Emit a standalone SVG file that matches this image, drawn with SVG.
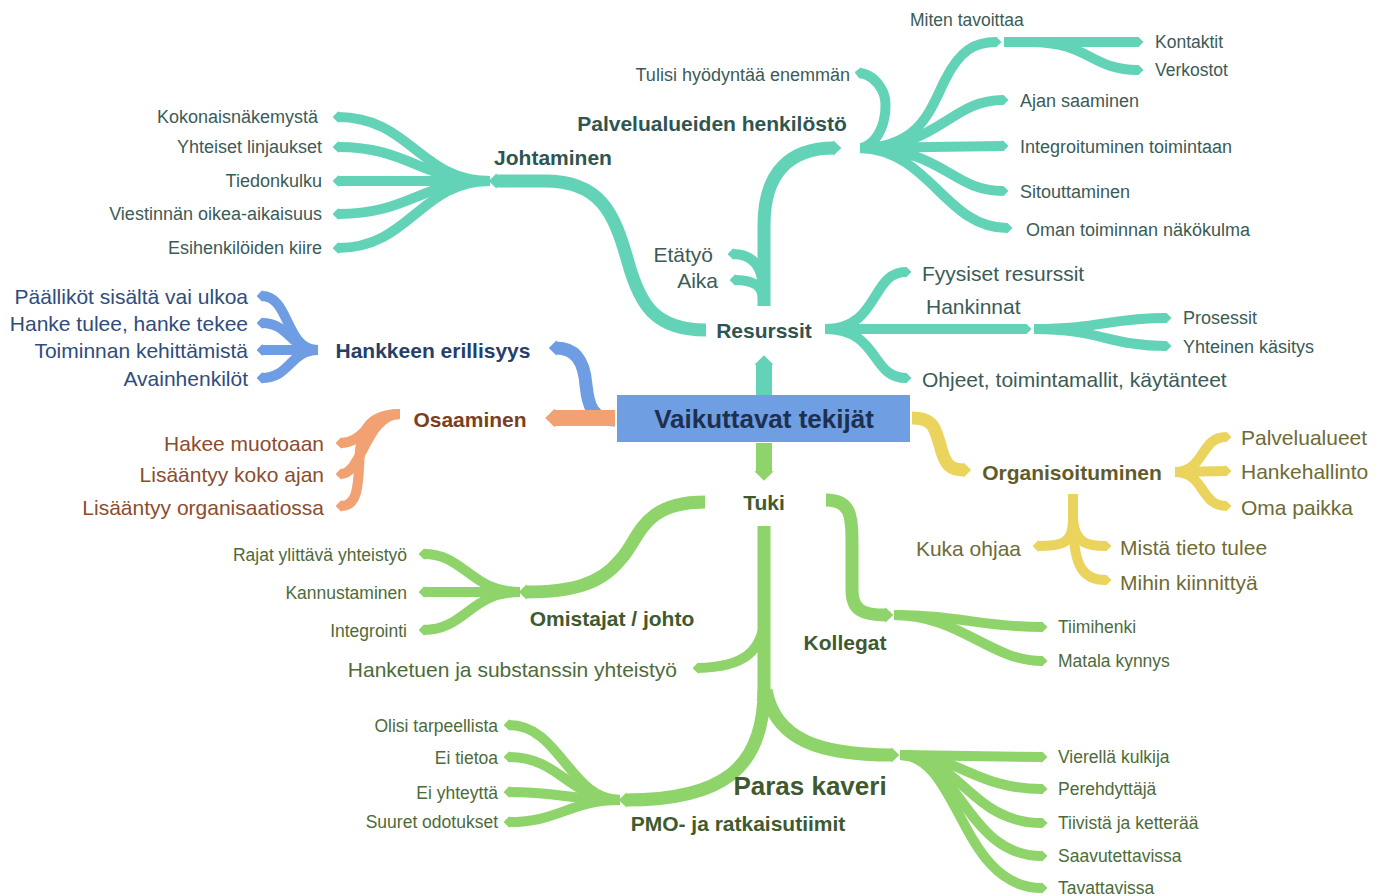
<svg xmlns="http://www.w3.org/2000/svg" width="1384" height="896" viewBox="0 0 1384 896">
<defs>
<style>
text{font-family:"Liberation Sans",Arial,sans-serif;dominant-baseline:central}
.b{font-weight:bold;font-size:21px}
.l{font-size:18px}
.m{font-size:21px}
.s{font-size:17.5px}
.r{text-anchor:end}
.c{text-anchor:middle}
.tt{fill:#3b5b57}.tb{fill:#2f5550}
.bt{fill:#2f4c7c}.bb{fill:#263f6a}
.ot{fill:#8b4d2e}.ob{fill:#7a3f20}
.yt{fill:#6e6b36}.yb{fill:#5f5c2a}
.gt{fill:#4d6b3a}.gb{fill:#3f5a2e}
path.br{fill:none;stroke-linecap:butt}
.teal{stroke:#63d3b7;marker-end:url(#mt)}
.blue{stroke:#6e9de3;marker-end:url(#mb)}
.orng{stroke:#f2a272;marker-end:url(#mo)}
.yell{stroke:#ebd45e;marker-end:url(#my)}
.grn{stroke:#8fd46a;marker-end:url(#mg)}
.w1{stroke-width:16}.w2{stroke-width:13}.w3{stroke-width:10}
</style>
<marker id="mt" viewBox="0 0 6 12" refX="0.5" refY="6" markerWidth="0.6" markerHeight="1.2" orient="auto"><path d="M0,0 L6,6 L0,12 z" fill="#63d3b7"/></marker>
<marker id="mb" viewBox="0 0 6 12" refX="0.5" refY="6" markerWidth="0.6" markerHeight="1.2" orient="auto"><path d="M0,0 L6,6 L0,12 z" fill="#6e9de3"/></marker>
<marker id="mo" viewBox="0 0 6 12" refX="0.5" refY="6" markerWidth="0.6" markerHeight="1.2" orient="auto"><path d="M0,0 L6,6 L0,12 z" fill="#f2a272"/></marker>
<marker id="my" viewBox="0 0 6 12" refX="0.5" refY="6" markerWidth="0.6" markerHeight="1.2" orient="auto"><path d="M0,0 L6,6 L0,12 z" fill="#ebd45e"/></marker>
<marker id="mg" viewBox="0 0 6 12" refX="0.5" refY="6" markerWidth="0.6" markerHeight="1.2" orient="auto"><path d="M0,0 L6,6 L0,12 z" fill="#8fd46a"/></marker>
</defs>
<rect width="1384" height="896" fill="#ffffff"/>

<g id="connectors">
<!-- teal: Resurssit -->
<path class="br teal w1" d="M764,396 L764,364"/>
<path class="br teal w2" d="M706,330 C655,330 640,305 628,262 C614,212 600,181 545,181 L496,181"/>
<path class="br teal w3" d="M490,181 C420,181 410,117 338,117"/>
<path class="br teal w3" d="M490,181 C420,181 410,147 338,147"/>
<path class="br teal w3" d="M490,181 L338,181"/>
<path class="br teal w3" d="M490,181 C420,181 410,214 338,214"/>
<path class="br teal w3" d="M490,181 C420,181 410,248 338,248"/>
<path class="br teal w2" d="M764,306 L764,225 C764,172 790,148 834,148"/>
<path class="br teal w3" d="M763,290 C763,266 752,254 733,254"/>
<path class="br teal w3" d="M763,300 C763,286 754,280 735,280"/>
<path class="br teal w3" d="M862,148 C885,140 890,104 882,90 C876,79 868,74 860,73"/>
<path class="br teal w3" d="M860,148 C920,148 930,110 945,80 C960,50 975,42 996,42"/>
<path class="br teal w3" d="M1004,42 L1138,42"/>
<path class="br teal w3" d="M1030,42 C1090,42 1090,70 1138,70"/>
<path class="br teal w3" d="M860,148 C940,148 950,100 1003,100"/>
<path class="br teal w3" d="M860,148 L1003,146"/>
<path class="br teal w3" d="M860,148 C945,148 950,191 1003,191"/>
<path class="br teal w3" d="M860,148 C930,150 945,228 1007,228"/>
<path class="br teal w3" d="M825,329 C880,329 870,272 906,272"/>
<path class="br teal w3" d="M825,329 L1026,329"/>
<path class="br teal w3" d="M1034,329 C1100,329 1110,318 1166,318"/>
<path class="br teal w3" d="M1034,329 C1100,329 1110,346 1166,346"/>
<path class="br teal w3" d="M825,329 C880,329 870,378 906,378"/>
<!-- blue -->
<path class="br blue w2" d="M615,420 C592,420 588,405 586,385 C584,360 575,348 556,348"/>
<path class="br blue w3" d="M318,350 C285,350 290,296 262,296"/>
<path class="br blue w3" d="M318,350 C290,350 290,323 262,323"/>
<path class="br blue w3" d="M318,350 L262,350"/>
<path class="br blue w3" d="M318,350 C290,350 290,378 262,378"/>
<!-- orange -->
<path class="br orng w1" d="M615,418 L554,418"/>
<path class="br orng w3" d="M400,414 C368,414 365,443 341,443"/>
<path class="br orng w3" d="M400,414 C366,414 362,474 341,474"/>
<path class="br orng w3" d="M400,414 C370,414 362,430 360,450 C358,480 360,506 341,506"/>
<!-- yellow -->
<path class="br yell w2" d="M912,418 C935,418 935,430 940,445 C945,465 950,470 964,470"/>
<path class="br yell w3" d="M1175,472 C1205,472 1200,437 1226,437"/>
<path class="br yell w3" d="M1175,472 L1226,471"/>
<path class="br yell w3" d="M1175,472 C1205,472 1200,506 1226,506"/>
<path class="br yell w3" d="M1073,494 L1073,520 C1073,545 1060,546 1038,546"/>
<path class="br yell w3" d="M1073,520 C1075,545 1090,546 1106,546"/>
<path class="br yell w3" d="M1073,520 C1073,570 1085,580 1106,580"/>
<!-- green -->
<path class="br grn w1" d="M764,443 L764,472"/>
<path class="br grn w2" d="M705,502 C640,502 640,540 620,560 C600,585 570,592 526,592"/>
<path class="br grn w3" d="M520,592 C470,592 465,554 424,554"/>
<path class="br grn w3" d="M520,592 L424,592"/>
<path class="br grn w3" d="M520,592 C470,592 465,630 424,630"/>
<path class="br grn w2" d="M826,500 C850,500 852,515 852,540 L852,590 C852,610 862,615 886,615"/>
<path class="br grn w3" d="M894,615 C960,615 980,627 1042,627"/>
<path class="br grn w3" d="M894,615 C960,615 990,661 1042,661"/>
<path class="br grn w2" d="M764,526 L764,700"/>
<path class="br grn w3" d="M765,610 C765,655 740,667 698,668"/>
<path class="br grn w2" d="M764,690 C764,770 720,800 626,800"/>
<path class="br grn w2" d="M766,690 C775,740 820,755 892,755"/>
<path class="br grn w3" d="M620,800 C570,800 560,725 509,725"/>
<path class="br grn w3" d="M620,800 C570,800 560,757 509,757"/>
<path class="br grn w3" d="M620,800 C570,800 560,792 509,792"/>
<path class="br grn w3" d="M620,800 C570,800 560,822 509,822"/>
<path class="br grn w3" d="M900,755 L1042,757"/>
<path class="br grn w3" d="M900,755 C960,755 975,789 1042,789"/>
<path class="br grn w3" d="M900,755 C960,755 970,823 1042,823"/>
<path class="br grn w3" d="M900,755 C960,755 965,856 1042,856"/>
<path class="br grn w3" d="M900,755 C960,755 960,888 1042,888"/>
</g>

<g id="center">
<rect x="617" y="395" width="293" height="47" fill="#6f9ee2"/>
<text x="764" y="419" class="c" style="font-size:26px;font-weight:bold;fill:#1d3050">Vaikuttavat tekijät</text>
</g>

<g id="resurssit">
<text x="764" y="330" class="b c tb">Resurssit</text>
</g>
<g id="johtaminen">
<text x="553" y="157" class="b c tb">Johtaminen</text>
<text x="318" y="117" class="l r tt">Kokonaisnäkemystä</text>
<text x="322" y="147" class="l r tt">Yhteiset linjaukset</text>
<text x="322" y="181" class="l r tt">Tiedonkulku</text>
<text x="322" y="214" class="l r tt">Viestinnän oikea-aikaisuus</text>
<text x="322" y="248" class="l r tt">Esihenkilöiden kiire</text>
</g>
<g id="palvelualueiden">
<text x="712" y="123" class="b c tb">Palvelualueiden henkilöstö</text>
<text x="850" y="75" class="l r tt">Tulisi hyödyntää enemmän</text>
<text x="910" y="20" class="s tt">Miten tavoittaa</text>
<text x="1155" y="42" class="s tt">Kontaktit</text>
<text x="1155" y="70" class="s tt">Verkostot</text>
<text x="1020" y="101" class="l tt">Ajan saaminen</text>
<text x="1020" y="147" class="l tt">Integroituminen toimintaan</text>
<text x="1020" y="192" class="l tt">Sitouttaminen</text>
<text x="1026" y="230" class="l tt">Oman toiminnan näkökulma</text>
</g>
<g id="etatyo">
<text x="713" y="254" class="m r tt">Etätyö</text>
<text x="718" y="280" class="m r tt">Aika</text>
</g>
<g id="resurssit-oikea">
<text x="922" y="273" class="m tt">Fyysiset resurssit</text>
<text x="926" y="306" class="m tt">Hankinnat</text>
<text x="1183" y="318" class="l tt">Prosessit</text>
<text x="1183" y="347" class="l tt">Yhteinen käsitys</text>
<text x="922" y="379" class="m tt">Ohjeet, toimintamallit, käytänteet</text>
</g>
<g id="hankkeen">
<text x="433" y="350" class="b c bb">Hankkeen erillisyys</text>
<text x="248" y="296" class="m r bt">Päälliköt sisältä vai ulkoa</text>
<text x="248" y="323" class="m r bt">Hanke tulee, hanke tekee</text>
<text x="248" y="350" class="m r bt">Toiminnan kehittämistä</text>
<text x="248" y="378" class="m r bt">Avainhenkilöt</text>
</g>
<g id="osaaminen">
<text x="470" y="419" class="b c ob">Osaaminen</text>
<text x="324" y="443" class="m r ot">Hakee muotoaan</text>
<text x="324" y="474" class="m r ot">Lisääntyy koko ajan</text>
<text x="324" y="507" class="m r ot">Lisääntyy organisaatiossa</text>
</g>
<g id="organisoituminen">
<text x="1072" y="472" class="b c yb">Organisoituminen</text>
<text x="1241" y="437" class="m yt">Palvelualueet</text>
<text x="1241" y="471" class="m yt">Hankehallinto</text>
<text x="1241" y="507" class="m yt">Oma paikka</text>
<text x="1021" y="548" class="m r yt">Kuka ohjaa</text>
<text x="1120" y="547" class="m yt">Mistä tieto tulee</text>
<text x="1120" y="582" class="m yt">Mihin kiinnittyä</text>
</g>
<g id="tuki">
<text x="764" y="502" class="b c gb">Tuki</text>
</g>
<g id="omistajat">
<text x="612" y="618" class="b c gb">Omistajat / johto</text>
<text x="407" y="555" class="s r gt">Rajat ylittävä yhteistyö</text>
<text x="407" y="593" class="s r gt">Kannustaminen</text>
<text x="407" y="631" class="s r gt">Integrointi</text>
</g>
<g id="hanketuen">
<text x="677" y="669" class="m r gt">Hanketuen ja substanssin yhteistyö</text>
</g>
<g id="kollegat">
<text x="845" y="642" class="b c gb">Kollegat</text>
<text x="1058" y="627" class="s gt">Tiimihenki</text>
<text x="1058" y="661" class="s gt">Matala kynnys</text>
</g>
<g id="pmo">
<text x="738" y="823" class="b c gb">PMO- ja ratkaisutiimit</text>
<text x="498" y="726" class="s r gt">Olisi tarpeellista</text>
<text x="498" y="758" class="s r gt">Ei tietoa</text>
<text x="498" y="793" class="s r gt">Ei yhteyttä</text>
<text x="498" y="822" class="s r gt">Suuret odotukset</text>
</g>
<g id="paras-kaveri">
<text x="810" y="786" class="c gb" style="font-size:26px;font-weight:bold">Paras kaveri</text>
<text x="1058" y="757" class="s gt">Vierellä kulkija</text>
<text x="1058" y="789" class="s gt">Perehdyttäjä</text>
<text x="1058" y="823" class="s gt">Tiivistä ja ketterää</text>
<text x="1058" y="856" class="s gt">Saavutettavissa</text>
<text x="1058" y="888" class="s gt">Tavattavissa</text>
</g>
</svg>
